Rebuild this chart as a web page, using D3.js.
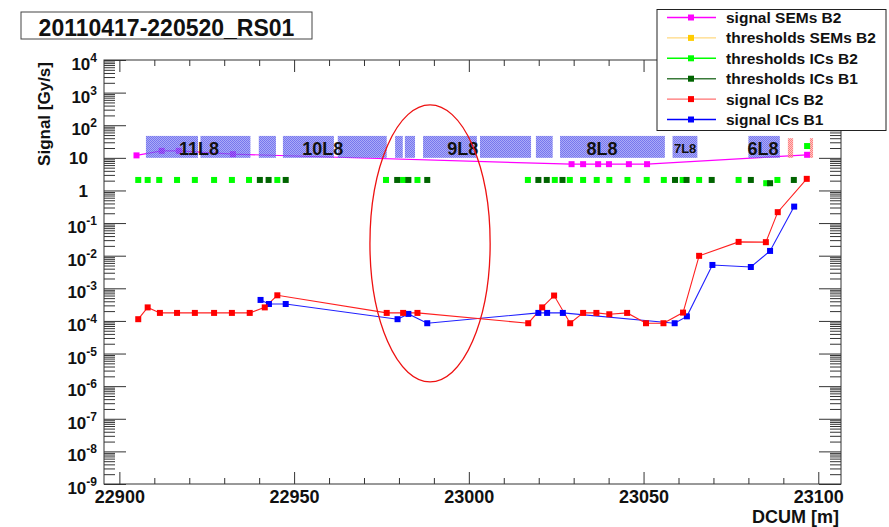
<!DOCTYPE html>
<html>
<head>
<meta charset="utf-8">
<script src="https://cdn.jsdelivr.net/npm/d3@7"></script>
<style>
  body { margin: 0; background: #fff; }
  svg text { font-family: "Liberation Sans", Arial, Helvetica, sans-serif; font-weight: bold; fill: #111; }
</style>
</head>
<body>
<div id="chart"></div>
<script>
// ---- data (DCUM [m], signal [Gy/s]) ----
const signalICsB2 = [
  [22905.4, 1.13e-4], [22908.1, 2.6e-4], [22911.6, 1.76e-4], [22916.5, 1.76e-4],
  [22921.6, 1.76e-4], [22927.1, 1.76e-4], [22932.2, 1.76e-4], [22937.3, 1.76e-4],
  [22941.6, 2.6e-4], [22945.2, 6.1e-4], [22976.5, 1.76e-4], [22981.2, 1.76e-4],
  [22985.3, 1.76e-4], [23017.0, 8.5e-5], [23021.0, 2.6e-4], [23024.4, 6.0e-4],
  [23029.0, 8.5e-5], [23032.7, 1.76e-4], [23036.5, 1.76e-4], [23040.2, 1.6e-4],
  [23045.3, 1.76e-4], [23050.7, 8.5e-5], [23055.7, 8.5e-5], [23061.3, 1.8e-4],
  [23065.9, 9.9e-3], [23077.2, 0.0265], [23085.0, 0.026], [23088.4, 0.216],
  [23096.7, 2.27]
];
const signalICsB1 = [
  [22940.4, 4.4e-4], [22942.8, 3.3e-4], [22947.6, 3.3e-4], [22979.6, 1.13e-4],
  [22982.7, 1.64e-4], [22988.1, 8.5e-5], [23019.9, 1.76e-4], [23022.4, 1.76e-4],
  [23026.9, 1.76e-4], [23058.9, 8.5e-5], [23062.4, 1.38e-4], [23069.7, 5.2e-3],
  [23080.7, 4.5e-3], [23086.2, 0.014], [23093.1, 0.32]
];
const signalSEMsB2 = [
  [22904.9, 11.9], [22912.1, 16.4], [22917.0, 16.4], [22932.5, 13.0],
  [23029.4, 6.4], [23032.7, 6.4], [23037.0, 6.4], [23040.1, 6.4],
  [23045.8, 6.4], [23051.0, 6.4], [23096.8, 12.4]
];
const thresholdsICsB2 = [
  [22905.4, 2.1], [22908.1, 2.1], [22911.4, 2.1], [22916.5, 2.1], [22921.6, 2.1],
  [22927.1, 2.1], [22932.2, 2.1], [22937.1, 2.1], [22945.2, 2.1], [22976.3, 2.1],
  [22981.2, 2.1], [22985.3, 2.1], [23016.9, 2.1], [23024.6, 2.1], [23028.9, 2.1],
  [23032.7, 2.1], [23036.6, 2.1], [23040.2, 2.1], [23045.4, 2.1], [23050.9, 2.1],
  [23055.8, 2.1], [23061.2, 2.1], [23065.9, 2.1], [23077.2, 2.1], [23085.1, 1.67],
  [23088.3, 2.1], [23096.8, 23]
];
const thresholdsICsB1 = [
  [22940.2, 2.1], [22942.7, 2.1], [22947.6, 2.1], [22979.5, 2.1], [22982.7, 2.1],
  [22988.1, 2.1], [23019.9, 2.1], [23022.3, 2.1], [23026.8, 2.1], [23059.0, 2.1],
  [23062.3, 2.1], [23069.5, 2.1], [23080.7, 2.1], [23086.2, 1.67], [23093.0, 2.1]
];
const thresholdsSEMsB2 = [];

// element positions (hatched boxes) and cell names
const icElements = [
  [22907.6, 22922.5], [22923.2, 22937.5], [22939.9, 22944.8], [22946.8, 22961.4],
  [22962.5, 22976.5], [22978.9, 22981.1], [22981.7, 22984.6], [22986.9, 23002.3],
  [23003.2, 23017.8], [23019.2, 23024.0], [23026.1, 23056.1], [23058.3, 23065.4],
  [23080.0, 23089.0]
];
const semElements = [[23091.3, 23092.8], [23097.6, 23098.5]];
const boxSignal = [10, 47];
const cellNames = ["11L8", "10L8", "9L8", "8L8", "7L8", "6L8"];
const cellDcum = [22922.8, 22958.2, 22998.3, 23038.1, 23061.9, 23084.2];
const cellSignal = 20;

// axes
const xDomain = [22895.6, 23106.5];
const yDomain = [1e-9, 1e4];
const xMajor = [22900, 22950, 23000, 23050, 23100];
const yExponents = d3.range(-9, 5);

// annotation ellipse (hand drawn on the slide)
const ellipseDcum = [22971.7, 23006.1];
const ellipseSignal = [1.35e-6, 420];

const legendItems = [
  {name: "signal SEMs B2", line: "#ff00ff", mark: "#ff00ff"},
  {name: "thresholds SEMs B2", line: "#ffd980", mark: "#ffcc00"},
  {name: "thresholds ICs B2", line: "#00ff00", mark: "#00ff00"},
  {name: "thresholds ICs B1", line: "#3a7a3a", mark: "#006400"},
  {name: "signal ICs B2", line: "#ff7070", mark: "#ff0000"},
  {name: "signal ICs B1", line: "#0000ff", mark: "#0000ff"}
];

// ---- layout ----
const W = 889, H = 527;
const plot = {left: 104, right: 841, top: 60, bottom: 484};

const svg = d3.select("#chart").append("svg")
  .attr("width", W).attr("height", H);

const x = d3.scaleLinear().domain(xDomain).range([plot.left, plot.right]);
const y = d3.scaleLog().domain(yDomain).range([plot.bottom, plot.top]);

// hatch patterns
const defs = svg.append("defs");
function checker(id, dark, light) {
  const p = defs.append("pattern").attr("id", id)
    .attr("patternUnits", "userSpaceOnUse").attr("width", 2).attr("height", 2);
  p.append("rect").attr("width", 2).attr("height", 2).attr("fill", light);
  p.append("rect").attr("width", 1).attr("height", 1).attr("fill", dark);
  p.append("rect").attr("x", 1).attr("y", 1).attr("width", 1).attr("height", 1).attr("fill", dark);
}
checker("blueHatch", "#4444e8", "#8c8cf4");
checker("redHatch", "#ff5050", "#ffb0b0");

const sq = 6;
function markers(g, data, color) {
  g.selectAll(null).data(data).join("rect")
    .attr("x", d => x(d[0]) - sq / 2)
    .attr("y", d => y(d[1]) - sq / 2)
    .attr("width", sq).attr("height", sq)
    .attr("fill", color);
}
const line = d3.line().x(d => x(d[0])).y(d => y(d[1]));

// signal SEMs (under the boxes)
const gSem = svg.append("g");
gSem.append("path").datum(signalSEMsB2).attr("d", line)
  .attr("fill", "none").attr("stroke", "#ff00ff").attr("stroke-width", 1.2);
markers(gSem, signalSEMsB2, "#ff00ff");

// element boxes
const gBox = svg.append("g").attr("opacity", 0.72);
gBox.selectAll(null).data(icElements).join("rect")
  .attr("x", d => x(d[0])).attr("width", d => x(d[1]) - x(d[0]))
  .attr("y", y(boxSignal[1])).attr("height", y(boxSignal[0]) - y(boxSignal[1]))
  .attr("fill", "url(#blueHatch)");
gBox.selectAll(null).data(semElements).join("rect")
  .attr("x", d => x(d[0])).attr("width", d => x(d[1]) - x(d[0]))
  .attr("y", y(40)).attr("height", y(boxSignal[0]) - y(40))
  .attr("fill", "url(#redHatch)");

svg.append("g").selectAll(null).data(cellNames).join("text")
  .attr("x", (d, i) => x(cellDcum[i]))
  .attr("y", y(cellSignal))
  .attr("dy", "0.36em")
  .attr("text-anchor", "middle")
  .style("font-size", d => d === "7L8" ? "13px" : "18px")
  .text(d => d);

// thresholds (markers only)
const gThr = svg.append("g");
markers(gThr, thresholdsSEMsB2, "#ffcc00");
markers(gThr, thresholdsICsB2, "#00ff00");
markers(gThr, thresholdsICsB1, "#006400");

// IC signals
const gSig = svg.append("g");
gSig.append("path").datum(signalICsB1).attr("d", line)
  .attr("fill", "none").attr("stroke", "#2020ff").attr("stroke-width", 1.1);
gSig.append("path").datum(signalICsB2).attr("d", line)
  .attr("fill", "none").attr("stroke", "#ff2020").attr("stroke-width", 1.1);
markers(gSig, signalICsB1, "#0000ff");
markers(gSig, signalICsB2, "#ff0000");

// annotation ellipse
svg.append("ellipse")
  .attr("cx", (x(ellipseDcum[0]) + x(ellipseDcum[1])) / 2)
  .attr("cy", (y(ellipseSignal[0]) + y(ellipseSignal[1])) / 2)
  .attr("rx", (x(ellipseDcum[1]) - x(ellipseDcum[0])) / 2)
  .attr("ry", (y(ellipseSignal[0]) - y(ellipseSignal[1])) / 2)
  .attr("fill", "none").attr("stroke", "#ee1111").attr("stroke-width", 1.3);

// ---- axes: ticks on all four sides, pointing inward ----
const axisColor = "#333";
const xMinor = d3.range(22900, 23101, 10).filter(v => !xMajor.includes(v));
const yMajor = yExponents.map(e => Math.pow(10, e));
const yMinor = [];
yExponents.slice(0, -1).forEach(e => d3.range(2, 10).forEach(k => yMinor.push(k * Math.pow(10, e))));

function tickGroup(axis, tx, ty) {
  const g = svg.append("g").attr("transform", `translate(${tx},${ty})`)
    .style("color", axisColor).call(axis);
  g.select(".domain").remove();
  return g;
}
tickGroup(d3.axisBottom(x).tickValues(xMinor).tickSize(-6).tickFormat(""), 0, plot.bottom);
tickGroup(d3.axisTop(x).tickValues(xMinor).tickSize(-6).tickFormat(""), 0, plot.top);
tickGroup(d3.axisTop(x).tickValues(xMajor).tickSize(-12).tickFormat(""), 0, plot.top);
const xAxis = tickGroup(d3.axisBottom(x).tickValues(xMajor).tickSize(-12).tickPadding(6)
  .tickFormat(d3.format("d")), 0, plot.bottom);
xAxis.selectAll("text")
  .attr("font-family", null).style("font-size", "18px").style("fill", "#111");

tickGroup(d3.axisLeft(y).tickValues(yMinor).tickSize(-11).tickFormat(""), plot.left, 0);
tickGroup(d3.axisLeft(y).tickValues(yMajor).tickSize(-22).tickFormat(""), plot.left, 0);
tickGroup(d3.axisRight(y).tickValues(yMinor).tickSize(-11).tickFormat(""), plot.right, 0);
tickGroup(d3.axisRight(y).tickValues(yMajor).tickSize(-22).tickFormat(""), plot.right, 0);

// y labels with superscripts
const yLab = svg.append("g").style("font-size", "17px");
yExponents.forEach(e => {
  const v = Math.pow(10, e);
  if (e === 0 || e === 1) {
    yLab.append("text").attr("x", 88).attr("y", y(v)).attr("dy", "0.36em")
      .attr("text-anchor", "end").text(e === 0 ? "1" : "10");
  } else {
    const t = yLab.append("text").attr("x", 97).attr("y", y(v) + 10)
      .attr("text-anchor", "end");
    t.append("tspan").text("10");
    t.append("tspan").attr("dy", -8).style("font-size", "12px").text(e);
  }
});

// frame
svg.append("rect")
  .attr("x", plot.left).attr("y", plot.top)
  .attr("width", plot.right - plot.left).attr("height", plot.bottom - plot.top)
  .attr("fill", "none").attr("stroke", axisColor).attr("stroke-width", 1);

// axis titles
svg.append("text")
  .attr("transform", `translate(50,${plot.top + 2}) rotate(-90)`)
  .attr("text-anchor", "end").style("font-size", "17px")
  .text("Signal [Gy/s]");
svg.append("text")
  .attr("x", plot.right - 2).attr("y", 523)
  .attr("text-anchor", "end").style("font-size", "18px")
  .text("DCUM [m]");

// title box
svg.append("rect").attr("x", 21).attr("y", 12).attr("width", 291).attr("height", 27)
  .attr("fill", "#fff").attr("stroke", "#444");
svg.append("text").attr("x", 166.5).attr("y", 35.5).attr("text-anchor", "middle")
  .style("font-size", "23px").text("20110417-220520_RS01");

// legend
const lg = svg.append("g");
lg.append("rect").attr("x", 657).attr("y", 9.5).attr("width", 229).attr("height", 121)
  .attr("fill", "#fff").attr("stroke", "#222");
legendItems.forEach((it, i) => {
  const cy = 17.5 + i * 20.4;
  lg.append("line").attr("x1", 667).attr("x2", 716).attr("y1", cy).attr("y2", cy)
    .attr("stroke", it.line).attr("stroke-width", 1.4);
  lg.append("rect").attr("x", 691 - 3).attr("y", cy - 3).attr("width", 6).attr("height", 6)
    .attr("fill", it.mark);
  lg.append("text").attr("x", 726).attr("y", cy).attr("dy", "0.36em")
    .style("font-size", "15.5px").text(it.name);
});
</script>
</body>
</html>
